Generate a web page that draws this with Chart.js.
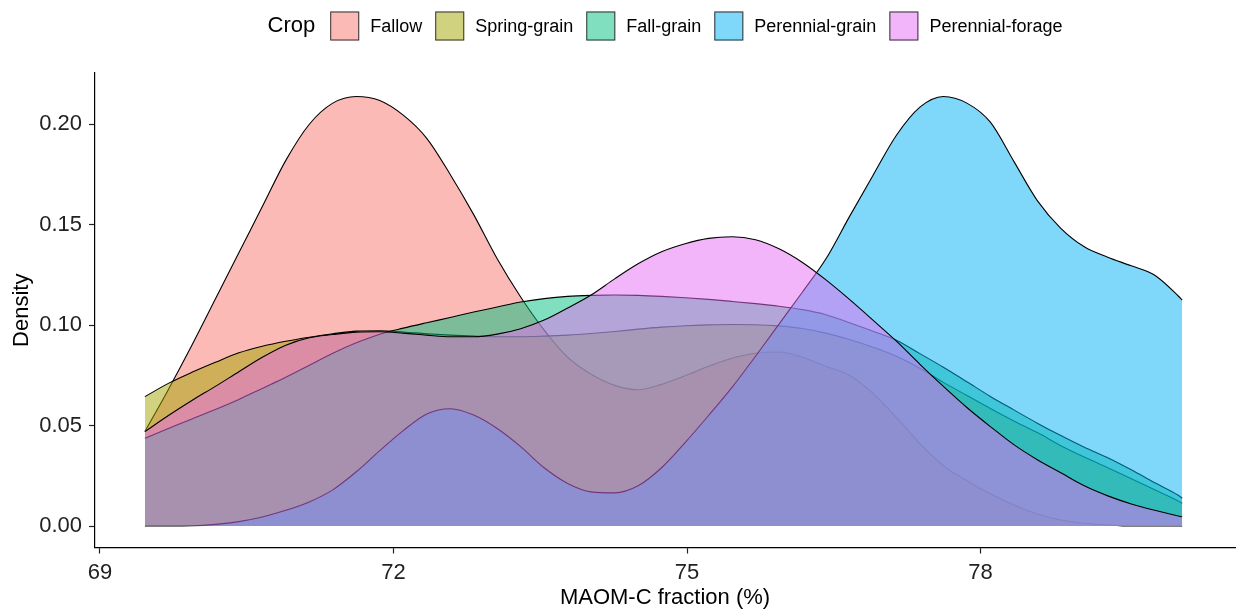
<!DOCTYPE html>
<html>
<head>
<meta charset="utf-8">
<script src="https://cdn.jsdelivr.net/npm/chart.js@4.4.1/dist/chart.umd.min.js"></script>
<style>
  html, body { margin: 0; padding: 0; background: #ffffff; }
  canvas { display: block; }
</style>
</head>
<body>
<canvas id="chart" width="1238" height="613"></canvas>
<script>
// Kernel density of MAOM-C fraction (%) per crop, sampled on a common grid.
const crops = ['Fallow', 'Spring-grain', 'Fall-grain', 'Perennial-grain', 'Perennial-forage'];
const cropColors = ['#F8766D', '#A3A500', '#00BF7D', '#00B0F6', '#E76BF3'];

const maomC = [
  69.46, 69.70, 69.94, 70.18, 70.42, 70.66, 70.90, 71.14, 71.38, 71.62,
  71.86, 72.10, 72.34, 72.58, 72.82, 73.06, 73.30, 73.54, 73.78, 74.02,
  74.26, 74.50, 74.74, 74.98, 75.22, 75.46, 75.70, 75.94, 76.18, 76.42,
  76.66, 76.90, 77.14, 77.38, 77.62, 77.86, 78.10, 78.34, 78.58, 78.82,
  79.06, 79.30, 79.54, 79.78, 80.02, 80.06
];

const fallow = [
  0.0470, 0.0680, 0.0900, 0.1130, 0.1360, 0.1590, 0.1820, 0.2000, 0.2105, 0.2138,
  0.2118, 0.2045, 0.1930, 0.1750, 0.1550, 0.1330, 0.1140, 0.0975, 0.0840, 0.0755,
  0.0700, 0.0678, 0.0705, 0.0748, 0.0795, 0.0835, 0.0860, 0.0866, 0.0840, 0.0795,
  0.0750, 0.0660, 0.0540, 0.0410, 0.0300, 0.0225, 0.0160, 0.0105, 0.0060, 0.0030,
  0.0014, 0.0005, 0.0000, 0.0000, 0.0000, 0.0000
];

const springGrain = [
  0.0644, 0.0710, 0.0765, 0.0815, 0.0862, 0.0895, 0.0920, 0.0940, 0.0957, 0.0970,
  0.0972, 0.0966, 0.0957, 0.0950, 0.0945, 0.0942, 0.0942, 0.0945, 0.0950, 0.0958,
  0.0968, 0.0980, 0.0990, 0.0997, 0.1001, 0.1003, 0.1002, 0.0996, 0.0983, 0.0960,
  0.0928, 0.0890, 0.0845, 0.0785, 0.0715, 0.0650, 0.0585, 0.0523, 0.0465, 0.0400,
  0.0343, 0.0290, 0.0235, 0.0180, 0.0125, 0.0113
];

const fallGrain = [
  0.0437, 0.0485, 0.0533, 0.0580, 0.0630, 0.0685, 0.0740, 0.0800, 0.0860, 0.0912,
  0.0955, 0.0985, 0.1012, 0.1038, 0.1065, 0.1090, 0.1115, 0.1132, 0.1143, 0.1148,
  0.1150, 0.1148, 0.1143, 0.1136, 0.1128, 0.1118, 0.1107, 0.1094, 0.1077, 0.1052,
  0.1012, 0.0970, 0.0925, 0.0858, 0.0790, 0.0718, 0.0645, 0.0578, 0.0512, 0.0450,
  0.0392, 0.0340, 0.0280, 0.0215, 0.0153, 0.0138
];

const perennialGrain = [
  0.0000, 0.0000, 0.0001, 0.0008, 0.0022, 0.0045, 0.0078, 0.0120, 0.0180, 0.0270,
  0.0375, 0.0475, 0.0558, 0.0584, 0.0552, 0.0485, 0.0395, 0.0290, 0.0212, 0.0170,
  0.0165, 0.0200, 0.0290, 0.0415, 0.0550, 0.0690, 0.0845, 0.1005, 0.1165, 0.1330,
  0.1540, 0.1745, 0.1945, 0.2085, 0.2138, 0.2105, 0.2010, 0.1815, 0.1620, 0.1482,
  0.1390, 0.1338, 0.1295, 0.1248, 0.1145, 0.1125
];

const perennialForage = [
  0.0470, 0.0550, 0.0625, 0.0695, 0.0768, 0.0840, 0.0900, 0.0937, 0.0953, 0.0965,
  0.0967, 0.0960, 0.0950, 0.0942, 0.0942, 0.0955, 0.0982, 0.1025, 0.1085, 0.1150,
  0.1230, 0.1305, 0.1365, 0.1405, 0.1432, 0.1440, 0.1425, 0.1380, 0.1312, 0.1225,
  0.1128, 0.1025, 0.0920, 0.0805, 0.0695, 0.0590, 0.0495, 0.0405, 0.0330, 0.0265,
  0.0200, 0.0150, 0.0110, 0.0078, 0.0050, 0.0046
];

const xTicks = [69, 72, 75, 78];
const yTicks = [0, 0.05, 0.10, 0.15, 0.20];

const seriesByCrop = [fallow, springGrain, fallGrain, perennialGrain, perennialForage];

function withAlpha(hex, a) {
  const n = parseInt(hex.slice(1), 16);
  return `rgba(${(n >> 16) & 255}, ${(n >> 8) & 255}, ${n & 255}, ${a})`;
}

const FONT = "'Liberation Sans', Arial, Helvetica, sans-serif";
Chart.defaults.font.family = FONT;

// Legend row drawn above the panel: "Crop" title followed by keys.
const cropLegend = {
  id: 'cropLegend',
  afterDraw(chart) {
    const ctx = chart.ctx;
    const area = chart.chartArea;
    const keySize = 29, keyGap = 11, itemGap = 13, titleGap = 15;
    const cy = 26;
    ctx.save();
    ctx.font = `22px ${FONT}`;
    const titleW = ctx.measureText('Crop').width;
    ctx.font = `18px ${FONT}`;
    const labelW = crops.map(c => ctx.measureText(c).width);
    let total = titleW + titleGap;
    labelW.forEach((w, i) => { total += keySize + keyGap + w + (i < crops.length - 1 ? itemGap : 0); });
    let x = (area.left + area.right) / 2 - total / 2;

    ctx.textBaseline = 'middle';
    ctx.textAlign = 'left';
    ctx.fillStyle = '#000000';
    ctx.font = `22px ${FONT}`;
    ctx.fillText('Crop', x, cy);
    x += titleW + titleGap;

    ctx.font = `18px ${FONT}`;
    crops.forEach((c, i) => {
      const top = cy - keySize / 2;
      ctx.fillStyle = '#ffffff';
      ctx.fillRect(x, top, keySize, keySize);
      ctx.fillStyle = withAlpha(cropColors[i], 0.5);
      ctx.fillRect(x, top, keySize, keySize);
      ctx.strokeStyle = '#333333';
      ctx.lineWidth = 1;
      ctx.strokeRect(x + 0.5, top + 0.5, keySize - 1, keySize - 1);
      x += keySize + keyGap;
      ctx.fillStyle = '#000000';
      ctx.fillText(c, x, cy + 1);
      x += labelW[i] + itemGap;
    });
    ctx.restore();
  }
};

const datasets = crops.map((name, i) => ({
  label: name,
  data: maomC.map((x, j) => ({ x: x, y: seriesByCrop[i][j] })),
  order: crops.length - i,
  fill: 'origin',
  backgroundColor: withAlpha(cropColors[i], 0.5),
  borderColor: '#000000',
  borderWidth: 1.1,
  pointRadius: 0,
  pointHoverRadius: 0,
  cubicInterpolationMode: 'monotone'
}));

new Chart(document.getElementById('chart'), {
  type: 'line',
  data: { datasets },
  plugins: [cropLegend],
  options: {
    responsive: false,
    devicePixelRatio: 1,
    animation: false,
    events: [],
    layout: { padding: { top: 73, right: 3, left: 0, bottom: 0 } },
    plugins: {
      legend: { display: false },
      tooltip: { enabled: false }
    },
    scales: {
      x: {
        type: 'linear',
        min: 68.95,
        max: 80.60,
        afterBuildTicks(scale) { scale.ticks = xTicks.map(v => ({ value: v })); },
        afterFit(scale) { scale.height = 65.5; },
        grid: { display: true, drawOnChartArea: false, drawTicks: true, tickLength: 6, tickColor: '#222222', tickWidth: 1.2 },
        border: { display: true, color: '#000000', width: 1.2 },
        ticks: {
          padding: 6.3,
          color: '#222222',
          font: { size: 22 },
          maxRotation: 0,
          callback: v => String(v)
        },
        title: {
          display: true,
          text: 'MAOM-C fraction (%)',
          color: '#000000',
          font: { size: 22 },
          padding: { top: 0, bottom: 1.8 }
        }
      },
      y: {
        type: 'linear',
        min: -0.0107,
        max: 0.2255,
        afterBuildTicks(scale) { scale.ticks = yTicks.map(v => ({ value: v })); },
        afterFit(scale) { scale.width = 95; },
        grid: { display: true, drawOnChartArea: false, drawTicks: true, tickLength: 6, tickColor: '#222222', tickWidth: 1.2 },
        border: { display: true, color: '#000000', width: 1.2 },
        ticks: {
          padding: 7,
          color: '#222222',
          font: { size: 22 },
          callback: v => v.toFixed(2)
        },
        title: {
          display: true,
          text: 'Density',
          color: '#000000',
          font: { size: 22 },
          padding: { top: 8.8, bottom: 0 }
        }
      }
    }
  }
});
</script>
</body>
</html>
